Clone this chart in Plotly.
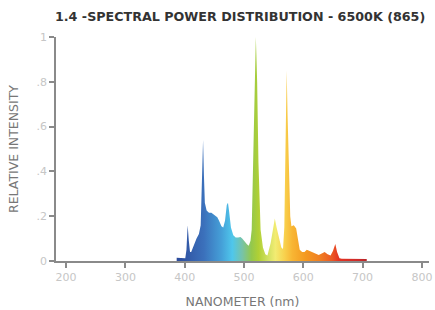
import plotly.graph_objects as go

# Spectrum (nm, relative intensity)
wavelength = [386.5, 395, 401, 403, 405, 407, 409, 411, 415, 420, 424, 427, 429, 431, 432.5, 434, 437,
              441, 445, 450, 455, 458, 462, 465, 468, 471, 473, 475, 478, 482, 486, 490, 494, 497,
              501, 505, 508, 511, 513, 515.5, 517.7, 520, 522.2, 524.4, 528, 532, 536, 539.5,
              545, 549, 552, 555, 559, 563, 565.8, 568, 569.6, 571, 572, 573.5, 575.5, 578,
              580, 584, 588, 591, 594, 598, 602, 606, 610, 615, 620, 626, 632, 636, 641, 646,
              650, 654, 657, 661, 665, 700, 707]
intensity = [0.015, 0.012, 0.012, 0.05, 0.16, 0.09, 0.04, 0.04, 0.07, 0.1, 0.12, 0.16, 0.35, 0.54, 0.38, 0.26, 0.225,
             0.215, 0.215, 0.205, 0.195, 0.18, 0.155, 0.15, 0.18, 0.25, 0.26, 0.22, 0.15, 0.115, 0.105, 0.105, 0.107, 0.1,
             0.085, 0.075, 0.068, 0.09, 0.14, 0.44, 0.8, 1.0, 0.8, 0.44, 0.14, 0.06, 0.03, 0.024,
             0.08, 0.15, 0.19, 0.15, 0.1, 0.06, 0.054, 0.15, 0.44, 0.7, 0.85, 0.65, 0.44, 0.2,
             0.155, 0.16, 0.145, 0.1, 0.05, 0.04, 0.04, 0.05, 0.045, 0.04, 0.032, 0.027, 0.035, 0.04, 0.03, 0.025,
             0.045, 0.076, 0.04, 0.012, 0.01, 0.01, 0.009]

# Wavelength colour stops
color_nm = [386.5, 410, 430, 460, 478, 495, 510, 522, 538, 550, 565, 578, 600, 625, 645, 656, 690, 707]
color_hex = ["#2c4c9c", "#3560ad", "#3b70bb", "#45a0d8", "#4fc7ec", "#78c3a6", "#94c84c", "#b1d034",
             "#d2e163", "#f2ec72", "#f8d24e", "#f8b634", "#f49a20", "#f07e22", "#eb5824", "#e43422",
             "#cc2a2a", "#ad2428"]

x_tick_vals = [200, 300, 400, 500, 600, 700, 800]
y_tick_vals = [0, 0.2, 0.4, 0.6, 0.8, 1]
y_tick_text = ["0", ".2", ".4", ".6", ".8", "1"]

lo, hi = color_nm[0], color_nm[-1]
colorscale = [[(n - lo) / (hi - lo), c] for n, c in zip(color_nm, color_hex)]

fig = go.Figure()
fig.add_trace(go.Scatter(
    x=wavelength, y=intensity, mode="lines",
    line=dict(width=0, color="rgba(0,0,0,0)"),
    fill="tozeroy",
    fillgradient=dict(type="horizontal", colorscale=colorscale, start=lo, stop=hi),
    hoverinfo="skip", showlegend=False,
))

axis_gray = "#8a8a8a"
tick_font = dict(family="DejaVu Sans", size=11, color="#c6c6c6")
title_font = dict(family="DejaVu Sans", size=12.5, color="#777777")

fig.update_layout(
    width=435, height=310,
    margin=dict(l=56, r=3, t=37, b=48),
    paper_bgcolor="white", plot_bgcolor="white",
    title=dict(text="<b>1.4 -SPECTRAL POWER DISTRIBUTION - 6500K (865)</b>",
               x=0.552, xanchor="center", y=0.945, yanchor="middle", xref="container", yref="container",
               font=dict(family="DejaVu Sans", size=12.7, color="#333333")),
    xaxis=dict(range=[183, 812], tickvals=x_tick_vals, showgrid=False, zeroline=False,
               showline=True, linecolor=axis_gray, linewidth=1.5,
               ticks="outside", ticklen=5, tickcolor=axis_gray, tickwidth=1.5,
               tickfont=tick_font, ticklabeloverflow="allow",
               title=dict(text="NANOMETER (nm)", standoff=14, font=title_font)),
    yaxis=dict(range=[0, 1], tickvals=y_tick_vals, ticktext=y_tick_text, showgrid=False, zeroline=False,
               showline=True, linecolor=axis_gray, linewidth=1.5,
               ticks="outside", ticklen=5, tickcolor=axis_gray, tickwidth=1.5,
               tickfont=tick_font,
               title=dict(text="RELATIVE INTENSITY", standoff=15, font=title_font)),
)

fig.write_html("out.html", config={"displayModeBar": False},
               post_script="document.body.style.margin='0';")
